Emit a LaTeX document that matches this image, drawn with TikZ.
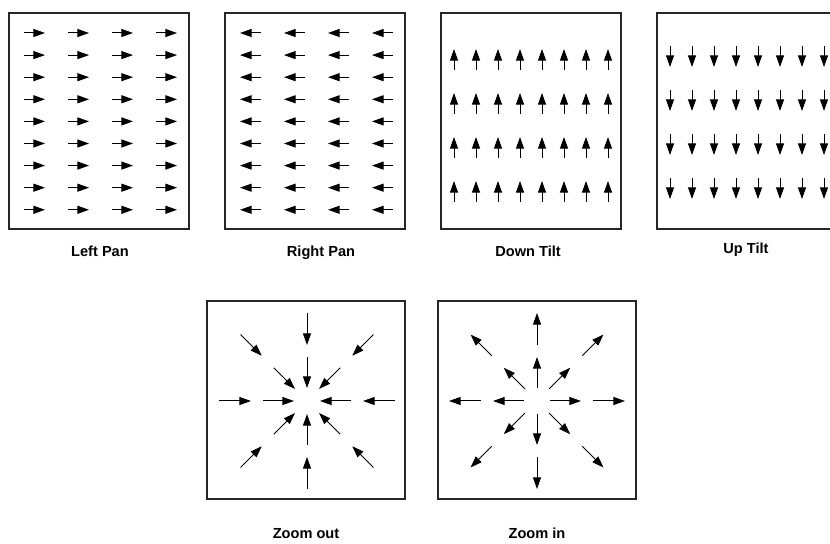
\documentclass[tikz,border=0pt]{standalone}
\usepackage{fontspec}
\setmainfont{Liberation Sans}
\usetikzlibrary{arrows.meta}
\tikzset{
 panel/.style={draw=black!85,line width=0.6pt},
 vec/.style={line width=0.5pt,-{Triangle[length=5.8pt,width=4pt]}},
 caption/.style={font=\bfseries\fontsize{7.3}{9}\selectfont,anchor=base}
}
\begin{document}
\begin{tikzpicture}[x=0.5pt,y=-0.5pt]
 \clip (0,0) rectangle (830,544);
 \draw[panel] (9,13) rectangle (189,229);
 \draw[panel] (225,13) rectangle (405,229);
 \foreach \r in {0,...,8} \foreach \c in {0,...,3} {
   \draw[vec] (24+44*\c,33+22.1*\r) -- +(21,0);
   \draw[vec] (261+44*\c,33+22.1*\r) -- +(-21,0);
 }
 \draw[panel] (441,13) rectangle (621,229);
 \draw[panel] (657,13) rectangle (837,229);
 \foreach \r in {0,...,3} \foreach \c in {0,...,7} {
   \draw[vec] (454+22*\c,70+44*\r) -- +(0,-21);
   \draw[vec] (670+22*\c,46+44*\r) -- +(0,21);
 }
 \draw[panel] (207,301) rectangle (405,499);
 \draw[panel] (438,301) rectangle (636,499);
 \begin{scope}[shift={(307,401)}]
  \foreach \a in {0,90,180,270} {\draw[vec] (\a:88)--(\a:56); \draw[vec] (\a:44)--(\a:13);}
  \foreach \a in {45,135,225,315} {\draw[vec] (\a:94)--(\a:64); \draw[vec] (\a:47)--(\a:17);}
 \end{scope}
 \begin{scope}[shift={(537,401)}]
  \foreach \a in {0,90,180,270} {\draw[vec] (\a:56)--(\a:88); \draw[vec] (\a:13)--(\a:44);}
  \foreach \a in {45,135,225,315} {\draw[vec] (\a:64)--(\a:94); \draw[vec] (\a:17)--(\a:47);}
 \end{scope}
 \node[caption] (leftpan) at (100,257) {Left Pan};
 \node[caption] (rightpan) at (321,257) {Right Pan};
 \node[caption] (downtilt) at (528,257) {Down Tilt};
 \node[caption] (uptilt) at (746,254) {Up Tilt};
 \node[caption] (zoomout) at (306,539) {Zoom out};
 \node[caption] (zoomin) at (537,539) {Zoom in};
\end{tikzpicture}
\end{document}
